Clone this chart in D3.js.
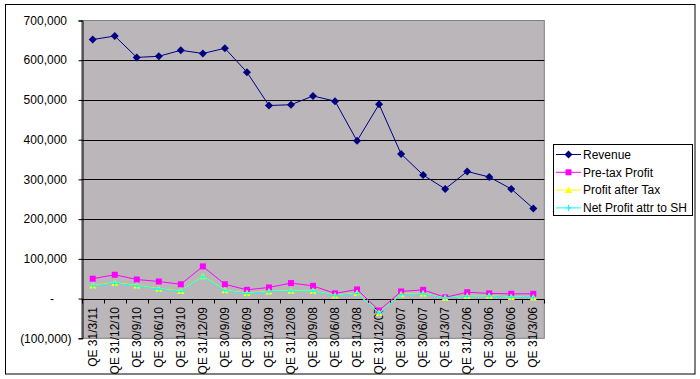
<!DOCTYPE html>
<html><head><meta charset="utf-8">
<script src="https://cdn.jsdelivr.net/npm/d3@7"></script>
<style>body{margin:0;background:#fff}svg{display:block;font-family:"Liberation Sans",Arial,sans-serif}</style>
</head><body><svg id="c" width="700" height="379"></svg>
<script>
const categories = ["QE 31/3/11","QE 31/12/10","QE 30/9/10","QE 30/6/10","QE 31/3/10","QE 31/12/09","QE 30/9/09","QE 30/6/09","QE 31/3/09","QE 31/12/08","QE 30/9/08","QE 30/6/08","QE 31/3/08","QE 31/12/07","QE 30/9/07","QE 30/6/07","QE 31/3/07","QE 31/12/06","QE 30/9/06","QE 30/6/06","QE 31/3/06"];
const revenue = [652000,661000,607000,610000,625000,617000,630000,570000,486000,488000,510000,497000,397000,489000,364000,311000,276000,320000,306000,276000,227000];
const preTaxProfit = [50000,60000,48000,43000,36000,81000,36000,22000,28000,39000,32000,13000,23000,-30000,18000,22000,3000,16000,13000,12000,12000];
const profitAfterTax = [33000,40000,33000,25000,19000,56000,21000,14000,18000,20000,20000,8000,14000,-36000,11000,13000,1500,6500,7000,4000,2500];
const netProfitSH = [32000,39000,32000,24000,18000,55000,20000,13000,17000,19000,19000,7000,13000,-37000,10000,12000,1000,6000,6500,3500,2000];
const yTicks = [700000,600000,500000,400000,300000,200000,100000,0,-100000];
const seriesNames = ["Revenue","Pre-tax Profit","Profit after Tax","Net Profit attr to SH"];

const svg = d3.select("#c");
const L = 81.7, R = 544.3, T = 20.5, B = 338.3;
const x = d3.scaleBand().domain(categories).range([L, R]);
const y = d3.scaleLinear().domain([-100000, 700000]).range([B, T]);
const cx = d => x(d) + x.bandwidth() / 2;

// outer border
svg.append("rect").attr("x",5.5).attr("y",4.5).attr("width",689.5).attr("height",369.5)
  .attr("fill","#fff").attr("stroke","#000").attr("stroke-width",1);

// plot area
svg.append("rect").attr("x",L).attr("y",T).attr("width",R-L).attr("height",B-T)
  .attr("fill","#bab6ba").attr("stroke","#808080").attr("stroke-width",1);

// gridlines
svg.append("g").selectAll("line").data(yTicks.filter(v => v < 700000 && v > -100000 && v !== 0)).join("line")
  .attr("x1",L).attr("x2",R).attr("y1",d=>Math.round(y(d))+0.5).attr("y2",d=>Math.round(y(d))+0.5)
  .attr("stroke","#000").attr("stroke-width",1);

// y axis
const yAxis = d3.axisLeft(y).tickValues(yTicks).tickSize(4).tickFormat(() => "");
const yg = svg.append("g").attr("transform",`translate(${Math.round(L)+0.5},0)`).call(yAxis);
yg.select(".domain").attr("stroke","#000");
yg.selectAll(".tick line").attr("stroke","#000");
const fmt = d3.format(",");
svg.append("g").selectAll("text").data(yTicks).join("text")
  .attr("x", d => d > 0 ? 67 : (d < 0 ? 71.5 : 52))
  .attr("y", d => y(d))
  .attr("dy","0.35em")
  .attr("text-anchor", d => d === 0 ? "middle" : "end")
  .attr("font-size","12px").attr("fill","#000")
  .text(d => d > 0 ? fmt(d) : (d < 0 ? "(" + fmt(-d) + ")" : "-"));

// x axis at zero
const y0 = Math.round(y(0)) + 0.5;
svg.append("line").attr("x1",L).attr("x2",R).attr("y1",y0).attr("y2",y0).attr("stroke","#000");
const bounds = categories.map(c => x(c)).concat([R]);
svg.append("g").selectAll("line").data(bounds).join("line")
  .attr("x1",d=>Math.round(d)+0.5).attr("x2",d=>Math.round(d)+0.5)
  .attr("y1",y0).attr("y2",y0+4).attr("stroke","#000");
svg.append("g").selectAll("text").data(categories).join("text")
  .attr("transform", d => `translate(${cx(d)},307) rotate(-90)`)
  .attr("dy","0.35em").attr("text-anchor","end")
  .attr("font-size","12px").attr("fill","#000").text(d => d);

// series
const sData = [revenue, preTaxProfit, profitAfterTax, netProfitSH];
const colors = ["#000080","#ff00ff","#ffff00","#00ffff"];
const line = d3.line().x((d,i) => cx(categories[i])).y(d => y(d));
function marker(g, k, px, py) {
  if (k === 0) g.append("path").attr("d",`M${px},${py-4}L${px+4},${py}L${px},${py+4}L${px-4},${py}Z`).attr("fill",colors[0]);
  else if (k === 1) g.append("rect").attr("x",px-3).attr("y",py-3).attr("width",6).attr("height",6).attr("fill",colors[1]);
  else if (k === 2) g.append("path").attr("d",`M${px},${py-3.5}L${px+3.5},${py+3}L${px-3.5},${py+3}Z`).attr("fill",colors[2]);
  else g.append("path").attr("d",`M${px-3},${py}H${px+3}M${px},${py-3}V${py+3}`).attr("stroke",colors[3]).attr("stroke-width",1).attr("fill","none");
}
sData.forEach((s,k) => {
  const g = svg.append("g");
  g.append("path").attr("d", line(s)).attr("fill","none").attr("stroke",colors[k]).attr("stroke-width",1);
  s.forEach((v,i) => marker(g, k, cx(categories[i]), y(v)));
});

// legend
svg.append("rect").attr("x",553.5).attr("y",144.5).attr("width",139).attr("height",71)
  .attr("fill","#fff").attr("stroke","#000");
seriesNames.forEach((n,k) => {
  const ly = 154.5 + k * 17.8;
  const g = svg.append("g");
  g.append("line").attr("x1",556).attr("x2",581).attr("y1",ly).attr("y2",ly).attr("stroke",colors[k]);
  marker(g, k, 568.5, ly);
  g.append("text").attr("x",583).attr("y",ly).attr("dy","0.35em").attr("font-size","12px").attr("fill","#000").text(n);
});
</script></body></html>
